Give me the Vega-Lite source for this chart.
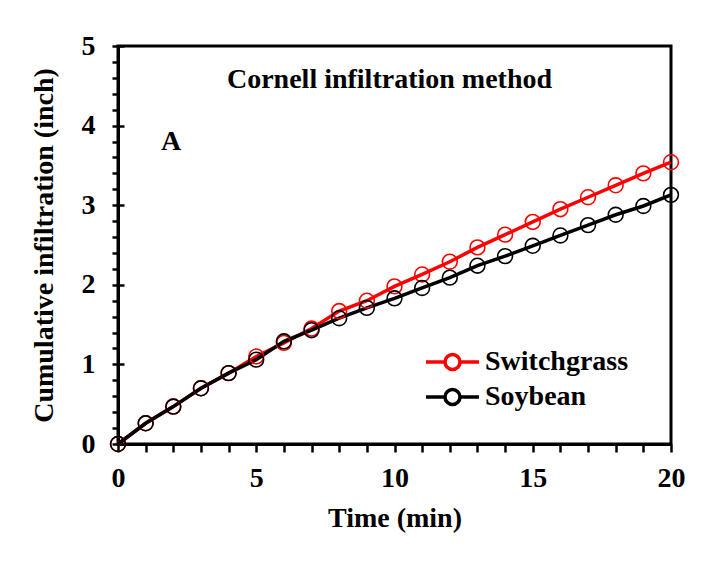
{
  "$schema": "https://vega.github.io/schema/vega-lite/v6.json",
  "autosize": "none",
  "width": 553,
  "height": 398,
  "padding": {"left": 118, "top": 46, "right": 49, "bottom": 117},
  "background": "white",
  "config": {
    "view": {"stroke": "black", "strokeWidth": 3},
    "font": "Liberation Serif",
    "axis": {
      "domainColor": "black", "domainWidth": 3, "tickColor": "black", "tickWidth": 2.5,
      "grid": false, "labelFont": "Liberation Serif", "labelFontSize": 28, "labelFontWeight": "bold",
      "labelColor": "black", "titleFont": "Liberation Serif", "titleFontSize": 28,
      "titleFontWeight": "bold", "titleColor": "black", "labelFlush": false, "labelOverlap": false
    }
  },
  "title": {
    "text": "Cornell infiltration method",
    "anchor": "middle", "offset": -62, "dx": -5,
    "font": "Liberation Serif", "fontSize": 28, "fontWeight": "bold", "color": "black"
  },
  "resolve": {"axis": {"x": "independent", "y": "independent"}},
  "layer": [
    {
      "data": {"values": [{"x": 1.92, "y": 3.79, "t": "A"}]},
      "mark": {"type": "text", "font": "Liberation Serif", "fontSize": 28, "fontWeight": "bold", "color": "black", "baseline": "middle", "align": "center"},
      "encoding": {
        "x": {"field": "x", "type": "quantitative",
          "scale": {"domain": [0, 20], "nice": false},
          "axis": {"orient": "bottom", "title": null, "labels": false, "domain": true, "tickSize": 8,
            "values": [1,2,3,4,6,7,8,9,11,12,13,14,16,17,18,19]}},
        "y": {"field": "y", "type": "quantitative",
          "scale": {"domain": [0, 5], "nice": false},
          "axis": {"orient": "left", "title": null, "labels": false, "domain": true, "tickSize": 6,
            "values": [0.2,0.4,0.6,0.8,1.2,1.4,1.6,1.8,2.2,2.4,2.6,2.8,3.2,3.4,3.6,3.8,4.2,4.4,4.6,4.8]}},
        "text": {"field": "t"}
      }
    },
    {
      "data": {"values": [
        {"time": 0, "crop": "Switchgrass", "value": 0},
        {"time": 1, "crop": "Switchgrass", "value": 0.26},
        {"time": 2, "crop": "Switchgrass", "value": 0.47},
        {"time": 3, "crop": "Switchgrass", "value": 0.70},
        {"time": 4, "crop": "Switchgrass", "value": 0.89},
        {"time": 5, "crop": "Switchgrass", "value": 1.10},
        {"time": 6, "crop": "Switchgrass", "value": 1.27},
        {"time": 7, "crop": "Switchgrass", "value": 1.45},
        {"time": 8, "crop": "Switchgrass", "value": 1.67},
        {"time": 9, "crop": "Switchgrass", "value": 1.80},
        {"time": 10, "crop": "Switchgrass", "value": 1.98},
        {"time": 11, "crop": "Switchgrass", "value": 2.13},
        {"time": 12, "crop": "Switchgrass", "value": 2.29},
        {"time": 13, "crop": "Switchgrass", "value": 2.47},
        {"time": 14, "crop": "Switchgrass", "value": 2.63},
        {"time": 15, "crop": "Switchgrass", "value": 2.79},
        {"time": 16, "crop": "Switchgrass", "value": 2.95},
        {"time": 17, "crop": "Switchgrass", "value": 3.10},
        {"time": 18, "crop": "Switchgrass", "value": 3.25},
        {"time": 19, "crop": "Switchgrass", "value": 3.40},
        {"time": 20, "crop": "Switchgrass", "value": 3.54},
        {"time": 0, "crop": "Soybean", "value": 0},
        {"time": 1, "crop": "Soybean", "value": 0.26},
        {"time": 2, "crop": "Soybean", "value": 0.47},
        {"time": 3, "crop": "Soybean", "value": 0.70},
        {"time": 4, "crop": "Soybean", "value": 0.89},
        {"time": 5, "crop": "Soybean", "value": 1.06},
        {"time": 6, "crop": "Soybean", "value": 1.29},
        {"time": 7, "crop": "Soybean", "value": 1.43},
        {"time": 8, "crop": "Soybean", "value": 1.58},
        {"time": 9, "crop": "Soybean", "value": 1.71},
        {"time": 10, "crop": "Soybean", "value": 1.83},
        {"time": 11, "crop": "Soybean", "value": 1.96},
        {"time": 12, "crop": "Soybean", "value": 2.09},
        {"time": 13, "crop": "Soybean", "value": 2.24},
        {"time": 14, "crop": "Soybean", "value": 2.36},
        {"time": 15, "crop": "Soybean", "value": 2.49},
        {"time": 16, "crop": "Soybean", "value": 2.62},
        {"time": 17, "crop": "Soybean", "value": 2.75},
        {"time": 18, "crop": "Soybean", "value": 2.88},
        {"time": 19, "crop": "Soybean", "value": 2.99},
        {"time": 20, "crop": "Soybean", "value": 3.13}
      ]},
      "mark": {"type": "line", "strokeWidth": 3.5, "clip": false,
        "point": {"filled": false, "size": 220, "strokeWidth": 1.6, "fill": "transparent"}},
      "encoding": {
        "x": {"field": "time", "type": "quantitative",
          "scale": {"domain": [0, 20], "nice": false, "zero": true},
          "axis": {
            "orient": "bottom", "title": "Time (min)", "titlePadding": 12, "format": "d",
            "values": [0, 5, 10, 15, 20], "tickSize": 8, "labelPadding": 12
          }},
        "y": {"field": "value", "type": "quantitative",
          "scale": {"domain": [0, 5], "nice": false},
          "axis": {
            "orient": "left", "title": "Cumulative infiltration (inch)", "titlePadding": 23, "format": "d",
            "values": [0, 1, 2, 3, 4, 5], "tickSize": 12, "offset": -6, "domain": false, "labelPadding": 17
          }},
        "color": {"field": "crop", "type": "nominal",
          "scale": {"domain": ["Switchgrass", "Soybean"], "range": ["#ff0000", "#000000"]},
          "legend": {
            "title": null, "orient": "none", "legendX": 320.5, "legendY": 302, "padding": 0,
            "symbolType": "M-2.65,0H-0.75M0.75,0H2.65M-0.75,0A0.75,0.75,0,1,1,0.75,0A0.75,0.75,0,1,1,-0.75,0",
            "symbolSize": 400, "symbolStrokeWidth": 3.5, "symbolFillColor": "transparent",
            "labelFont": "Liberation Serif", "labelFontSize": 28, "labelFontWeight": "bold",
            "labelColor": "black", "labelOffset": 18.5, "rowPadding": 5
          }}
      }
    }
  ]
}
